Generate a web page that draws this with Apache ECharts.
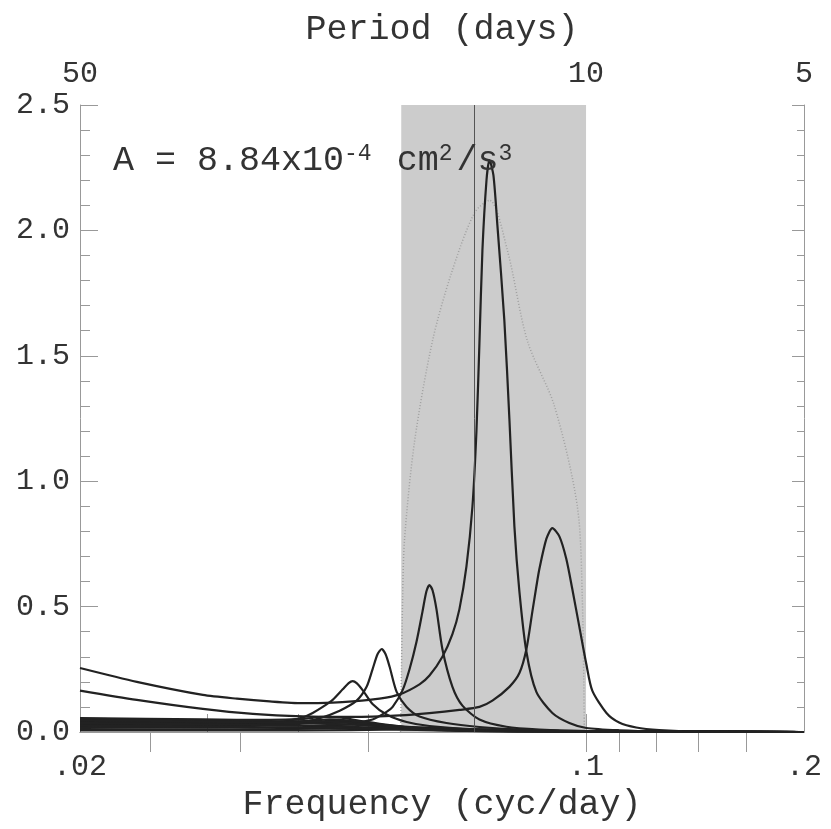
<!DOCTYPE html>
<html>
<head>
<meta charset="utf-8">
<script src="https://cdn.jsdelivr.net/npm/echarts@6/dist/echarts.min.js"></script>
<style>
  html, body { margin: 0; padding: 0; background: #fff; }
  #chart { width: 831px; height: 829px; }
</style>
</head>
<body>
<div id="chart"></div>
<script>
// Axis labels & ticks
const xLabelValues = [0.02, 0.1, 0.2];
const xLabelTexts = ['.02', '.1', '.2'];
const xTickValues = [0.03, 0.04, 0.05, 0.06, 0.07, 0.08, 0.09, 0.1];
const periodLabels = [50, 10, 5];
const periodTicks = [40, 30, 20, 10, 9, 8, 7, 6];
const bandPeriods = [18, 10];
const markerPeriod = 14;

// Curves: [frequency (cyc/day), spectral value]
const curveA = [[0.02,0.255],[0.02396,0.2],[0.02956,0.148],[0.03294,0.133],[0.03657,0.122],[0.0406,0.115],[0.04467,0.117],[0.0476,0.122],[0.05186,0.133],[0.05527,0.15],[0.05888,0.19],[0.06078,0.225],[0.06333,0.30],[0.06538,0.39],[0.06685,0.49],[0.06836,0.66],[0.06968,0.9],[0.07057,1.2],[0.07124,1.55],[0.07192,1.92],[0.07286,2.2],[0.07354,2.28],[0.07448,2.22],[0.07543,2.02],[0.07712,1.64],[0.07836,1.25],[0.07962,0.82],[0.0809,0.56],[0.08272,0.32],[0.08538,0.16],[0.08984,0.076],[0.09482,0.036],[0.1001,0.016],[0.1111,0.007],[0.1262,0.003],[0.2,0]];
const curveB = [[0.02,0.165],[0.02396,0.128],[0.02956,0.092],[0.03466,0.072],[0.0406,0.062],[0.0476,0.06],[0.05527,0.066],[0.06078,0.075],[0.06685,0.088],[0.07124,0.1],[0.07424,0.125],[0.07836,0.18],[0.0809,0.235],[0.08272,0.33],[0.0843,0.48],[0.08538,0.58],[0.0862,0.65],[0.08814,0.77],[0.08984,0.813],[0.09186,0.78],[0.09392,0.69],[0.09572,0.57],[0.09788,0.42],[0.1001,0.27],[0.102,0.165],[0.1067,0.076],[0.1111,0.038],[0.1173,0.018],[0.1262,0.008],[0.1433,0.002],[0.2,0]];
const curveC = [[0.02,0.05],[0.02956,0.042],[0.0406,0.036],[0.0476,0.038],[0.05071,0.05],[0.05302,0.08],[0.05406,0.1],[0.0558,0.167],[0.05704,0.25],[0.05832,0.36],[0.05944,0.48],[0.06018,0.56],[0.06078,0.586],[0.06137,0.565],[0.06214,0.49],[0.06333,0.33],[0.06538,0.18],[0.06749,0.105],[0.07124,0.05],[0.07762,0.021],[0.0862,0.01],[0.1001,0.004],[0.1433,0.001],[0.2,0]];
const curveD = [[0.02,0.045],[0.02956,0.036],[0.03657,0.034],[0.0406,0.04],[0.04287,0.055],[0.04568,0.085],[0.04821,0.125],[0.04976,0.18],[0.05071,0.25],[0.05152,0.31],[0.0522,0.331],[0.05286,0.31],[0.05354,0.26],[0.05475,0.16],[0.05651,0.1],[0.05888,0.062],[0.06414,0.036],[0.07124,0.02],[0.0809,0.01],[0.1001,0.004],[0.2,0]];
const curveE = [[0.02,0.04],[0.02956,0.034],[0.03657,0.036],[0.03896,0.046],[0.0406,0.058],[0.04192,0.076],[0.04328,0.1],[0.04467,0.128],[0.04612,0.17],[0.047,0.195],[0.0476,0.203],[0.04821,0.195],[0.04914,0.167],[0.05071,0.112],[0.05302,0.07],[0.05651,0.04],[0.06078,0.024],[0.07124,0.01],[0.0862,0.004],[0.2,0]];
const curveF = [[0.02,0.055],[0.02956,0.05],[0.03657,0.048],[0.0406,0.052],[0.04328,0.06],[0.04568,0.058],[0.04868,0.045],[0.05354,0.028],[0.06078,0.015],[0.0809,0.004],[0.2,0]];
const curveG = [[0.02,0.03],[0.02956,0.027],[0.03657,0.028],[0.04152,0.035],[0.04467,0.045],[0.04714,0.04],[0.05186,0.025],[0.05888,0.012],[0.07592,0.004],[0.2,0]];
const curveH = [[0.02,0.02],[0.02956,0.017],[0.0406,0.02],[0.04568,0.028],[0.05024,0.03],[0.05527,0.022],[0.06276,0.01],[0.0809,0.003],[0.2,0]];
const curveI = [[0.02,0.012],[0.0322,0.01],[0.04425,0.014],[0.05354,0.02],[0.06078,0.018],[0.07124,0.01],[0.09186,0.004],[0.2,0]];
const curveJ = [[0.02,0.006],[0.0406,0.006],[0.05527,0.01],[0.06477,0.012],[0.07592,0.01],[0.09186,0.005],[0.1184,0.002],[0.2,0]];
const curveK = [[0.02,0.042],[0.02956,0.038],[0.03774,0.04],[0.04152,0.045],[0.04425,0.05],[0.04714,0.045],[0.05186,0.03],[0.05888,0.015],[0.07592,0.005],[0.2,0]];
const curveL = [[0.02,0.052],[0.02396,0.05],[0.02956,0.046],[0.03657,0.043],[0.0406,0.042],[0.04467,0.04],[0.05024,0.03],[0.05888,0.014],[0.07592,0.004],[0.2,0]];
const curveM = [[0.02,0.047],[0.02396,0.045],[0.02956,0.041],[0.03657,0.037],[0.0406,0.035],[0.04714,0.03],[0.05527,0.018],[0.06477,0.008],[0.0809,0.002],[0.2,0]];
const curveN = [[0.02,0.036],[0.02396,0.034],[0.02956,0.031],[0.03657,0.027],[0.0406,0.025],[0.04714,0.021],[0.05527,0.014],[0.06477,0.006],[0.0809,0.002],[0.2,0]];
const curveO = [[0.02,0.025],[0.02396,0.024],[0.02956,0.022],[0.03657,0.019],[0.04425,0.016],[0.05186,0.012],[0.06078,0.007],[0.07592,0.003],[0.2,0]];
const envelope = [[0.05545,0],[0.0558,0.53],[0.05615,0.77],[0.05797,1.16],[0.06137,1.56],[0.06518,1.83],[0.07013,2.07],[0.07354,2.12],[0.07787,1.92],[0.08297,1.56],[0.09042,1.30],[0.09726,0.90],[0.09882,0.53],[0.09946,0]];

const curves = [curveA, curveB, curveC, curveD, curveE, curveF, curveG, curveH, curveI, curveJ, curveK, curveL, curveM, curveN, curveO];

const FONT = '"Liberation Mono", "DejaVu Sans Mono", monospace';
const TXT = '#333';
const AX = '#999';

const chart = echarts.init(document.getElementById('chart'), null, { renderer: 'canvas' });

function xLabelFmt(v) {
  let best = 0, bd = Infinity;
  xLabelValues.forEach((lv, i) => { const d = Math.abs(Math.log(lv) - Math.log(v)); if (d < bd) { bd = d; best = i; } });
  return xLabelTexts[best];
}

const series = [];
series.push({
  type: 'line', xAxisIndex: 0, yAxisIndex: 0, data: [], z: 1, silent: true,
  markArea: {
    silent: true,
    itemStyle: { color: '#cccccc' },
    data: [[{ xAxis: 1 / bandPeriods[0] }, { xAxis: 1 / bandPeriods[1] }]]
  },
  markLine: {
    silent: true, symbol: 'none', label: { show: false },
    lineStyle: { color: '#555', width: 1, type: 'solid' },
    data: [{ xAxis: 1 / markerPeriod }]
  }
});
series.push({
  type: 'line', xAxisIndex: 0, yAxisIndex: 0, data: envelope, z: 2,
  symbol: 'none', smooth: 0.3, silent: true,
  lineStyle: { color: '#a0a0a0', width: 1.5, type: [1, 2] }
});
curves.forEach(c => {
  series.push({
    type: 'line', xAxisIndex: 0, yAxisIndex: 0, data: c, z: 3,
    symbol: 'none', smooth: 0.25, silent: true,
    lineStyle: { color: '#222', width: 2.2 }
  });
});

chart.setOption({
  animation: false,
  backgroundColor: '#fff',
  grid: { left: 80, right: 27, top: 105, bottom: 97, containLabel: false },
  graphic: [{
    type: 'text', left: 113, top: 142, z: 10,
    style: {
      rich: {
        n: { fontFamily: FONT, fontSize: 35, fill: TXT },
        s: { fontFamily: FONT, fontSize: 23, fill: TXT, verticalAlign: 'top', padding: [0, 4, 14, 0] }
      },
      text: '{n|A = 8.84x10}{s|-4}{n| cm}{s|2}{n|/s}{s|3}'
    }
  }],
  xAxis: [{
    type: 'log', logBase: 10, min: 0.02, max: 0.2, position: 'bottom',
    name: 'Frequency (cyc/day)', nameLocation: 'middle', nameGap: 48,
    nameTextStyle: { fontFamily: FONT, fontSize: 35, color: TXT },
    axisLine: { show: true, lineStyle: { color: AX, width: 1 } },
    axisTick: { show: true, inside: true, length: 18, lineStyle: { color: AX }, customValues: xTickValues },
    axisLabel: { show: true, customValues: xLabelValues, formatter: xLabelFmt, fontFamily: FONT, fontSize: 30, color: TXT, margin: 20 },
    splitLine: { show: false }, minorTick: { show: false }
  }, {
    type: 'log', logBase: 10, min: 0.02, max: 0.2, position: 'top',
    name: 'Period (days)', nameLocation: 'middle', nameGap: 58,
    nameTextStyle: { fontFamily: FONT, fontSize: 35, color: TXT },
    axisLine: { show: true, lineStyle: { color: AX, width: 1 } },
    axisTick: { show: true, inside: true, length: 20, lineStyle: { color: AX }, customValues: periodTicks.map(p => 1 / p) },
    axisLabel: { show: true, customValues: periodLabels.map(p => 1 / p), formatter: v => String(Math.round(1 / v)), fontFamily: FONT, fontSize: 30, color: TXT, margin: 16 },
    splitLine: { show: false }, minorTick: { show: false }
  }],
  yAxis: [{
    type: 'value', min: 0, max: 2.5, interval: 0.5, position: 'left',
    axisLine: { show: true, lineStyle: { color: AX, width: 1 } },
    axisTick: { show: true, inside: true, length: 18, lineStyle: { color: AX } },
    minorTick: { show: true, splitNumber: 5, length: 10, lineStyle: { color: AX } },
    axisLabel: { formatter: v => v.toFixed(1), fontFamily: FONT, fontSize: 30, color: TXT, margin: 10 },
    splitLine: { show: false }
  }, {
    type: 'value', min: 0, max: 2.5, interval: 0.5, position: 'right',
    axisLine: { show: true, lineStyle: { color: AX, width: 1 } },
    axisTick: { show: true, inside: true, length: 12, lineStyle: { color: AX } },
    minorTick: { show: true, splitNumber: 5, length: 7, lineStyle: { color: AX } },
    axisLabel: { show: false },
    splitLine: { show: false }
  }],
  series: series
});
</script>
</body>
</html>
